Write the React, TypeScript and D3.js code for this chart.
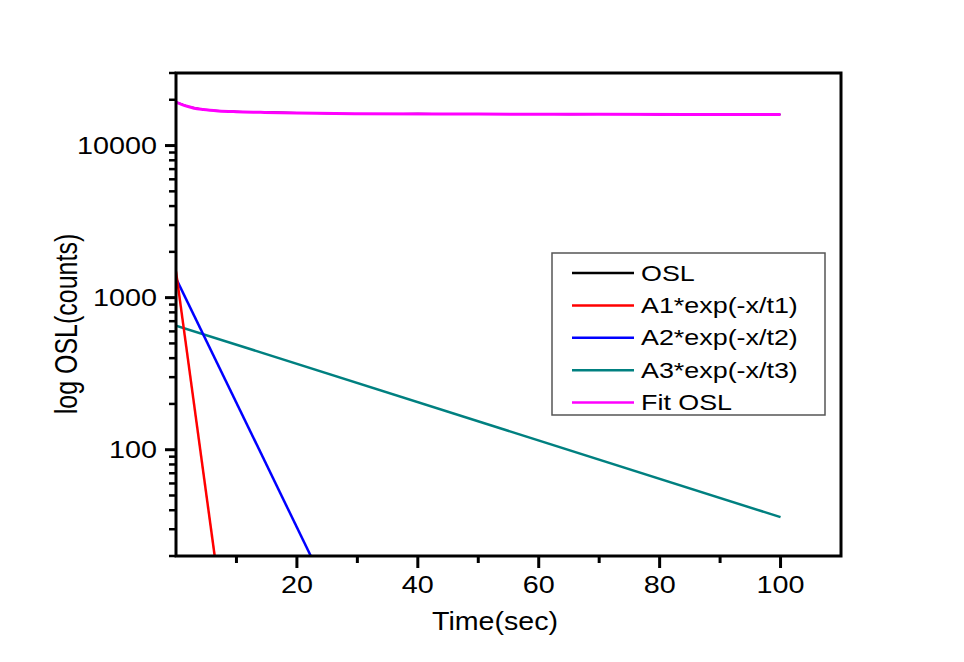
import React from "react";
import * as d3 from "d3";

const W = 964;
const H = 662;

// Fit OSL curve (time s, counts)
const fitTime = [0, 1, 2, 3, 4.5, 7, 10, 14, 20, 30, 50, 70, 100];
const fitCounts = [19300, 18600, 18050, 17600, 17250, 16900, 16700, 16550, 16350, 16170, 16100, 16050, 16000];

// Measured OSL (mostly hidden beneath the fit)
const oslTime = [0, 2, 5, 8, 12, 16, 20, 25, 30, 35, 40, 45, 50, 55, 60, 65, 70, 75, 80, 85, 90, 95, 100];
const oslCounts = [19350, 18100, 17150, 16850, 16650, 16600, 16450, 16250, 16200, 16150, 16250, 16100, 16150, 16050, 16100, 16000, 16050, 16100, 15950, 16050, 16000, 15980, 16000];

// Exponential components (straight lines on log scale): [start, end] points
const a1Time = [0, 6.4];
const a1Counts = [1490, 20];
const a2Time = [0, 22.3];
const a2Counts = [1340, 20];
const a3Time = [0, 100];
const a3Counts = [655, 36];

const xMajor = [20, 40, 60, 80, 100];
const xMinor = [10, 30, 50, 70, 90];
const yMajor = [100, 1000, 10000];
const yMinor = [20, 30, 40, 50, 60, 70, 80, 90, 200, 300, 400, 500, 600, 700, 800, 900, 2000, 3000, 4000, 5000, 6000, 7000, 8000, 9000, 20000, 30000];

const legendLabels = ["OSL", "A1*exp(-x/t1)", "A2*exp(-x/t2)", "A3*exp(-x/t3)", "Fit OSL"];
const legendColors = ["#000000", "#ff0000", "#0000ff", "#008080", "#ff00ff"];

const L = 176, R = 841, T = 73, B = 556;
const SX = 1.25; // horizontal stretch of the text in the reference

export default function App() {
  const x = d3.scaleLinear().domain([0, 110]).range([L, R]);
  const y = d3.scaleLog().domain([20, 30000]).range([B, T]);
  const line = (xs: number[], ys: number[], curve = d3.curveLinear) =>
    d3
      .line<number>()
      .x((_, i) => x(xs[i]))
      .y((_, i) => y(ys[i]))
      .curve(curve)(xs) || "";

  const font = "Arial, 'Liberation Sans', sans-serif";

  return (
    <svg
      width={W}
      height={H}
      style={{ position: "absolute", left: 0, top: 0, background: "#fff" }}
      fontFamily={font}
    >
      <defs>
        <clipPath id="plot">
          <rect x={L} y={T} width={R - L} height={B - T} />
        </clipPath>
      </defs>
      <g clipPath="url(#plot)" fill="none" strokeLinejoin="round">
        <path d={line(a3Time, a3Counts)} stroke="#008080" strokeWidth={2.5} />
        <path d={line(a2Time, a2Counts)} stroke="#0000ff" strokeWidth={2.5} />
        <path d={line(a1Time, a1Counts)} stroke="#ff0000" strokeWidth={2.5} />
        <path d={line(oslTime, oslCounts)} stroke="#000" strokeWidth={1.5} />
        <path d={line(fitTime, fitCounts, d3.curveMonotoneX)} stroke="#ff00ff" strokeWidth={3} />
      </g>

      {/* frame */}
      <rect x={L} y={T} width={R - L} height={B - T} fill="none" stroke="#000" strokeWidth={3} />

      {/* x ticks */}
      {xMajor.map((v) => (
        <g key={"xm" + v}>
          <line x1={x(v)} x2={x(v)} y1={B} y2={B + 12} stroke="#000" strokeWidth={3} />
          <text
            transform={`translate(${x(v)}, ${B + 37}) scale(${SX}, 1)`}
            textAnchor="middle"
            fontSize={23}
            fill="#000"
          >
            {v}
          </text>
        </g>
      ))}
      {xMinor.map((v) => (
        <line key={"xn" + v} x1={x(v)} x2={x(v)} y1={B} y2={B + 7} stroke="#000" strokeWidth={3} />
      ))}

      {/* y ticks */}
      {yMajor.map((v) => (
        <g key={"ym" + v}>
          <line x1={L - 11} x2={L} y1={y(v)} y2={y(v)} stroke="#000" strokeWidth={3} />
          <text
            transform={`translate(${L - 19}, ${y(v) + 8}) scale(${SX}, 1)`}
            textAnchor="end"
            fontSize={23}
            fill="#000"
          >
            {v}
          </text>
        </g>
      ))}
      {yMinor.map((v) => (
        <line key={"yn" + v} x1={L - 7} x2={L} y1={y(v)} y2={y(v)} stroke="#000" strokeWidth={2.5} />
      ))}

      {/* axis titles */}
      <text
        transform={`translate(495, 630) scale(1.1, 1)`}
        textAnchor="middle"
        fontSize={26}
        fill="#000"
      >
        Time(sec)
      </text>
      <text
        transform={`translate(77, 324) rotate(-90) scale(1, ${SX})`}
        textAnchor="middle"
        fontSize={25}
        fill="#000"
      >
        log OSL(counts)
      </text>

      {/* legend */}
      <rect x={552} y={253} width={273} height={162} fill="#fff" stroke="#555" strokeWidth={1.5} />
      {legendLabels.map((lab, i) => (
        <g key={lab}>
          <line
            x1={572}
            x2={634}
            y1={273 + i * 32.4}
            y2={273 + i * 32.4}
            stroke={legendColors[i]}
            strokeWidth={2.5}
          />
          <text
            transform={`translate(641, ${273 + i * 32.4 + 7.5}) scale(${SX}, 1)`}
            fontSize={21.5}
            fill="#000"
          >
            {lab}
          </text>
        </g>
      ))}
    </svg>
  );
}
